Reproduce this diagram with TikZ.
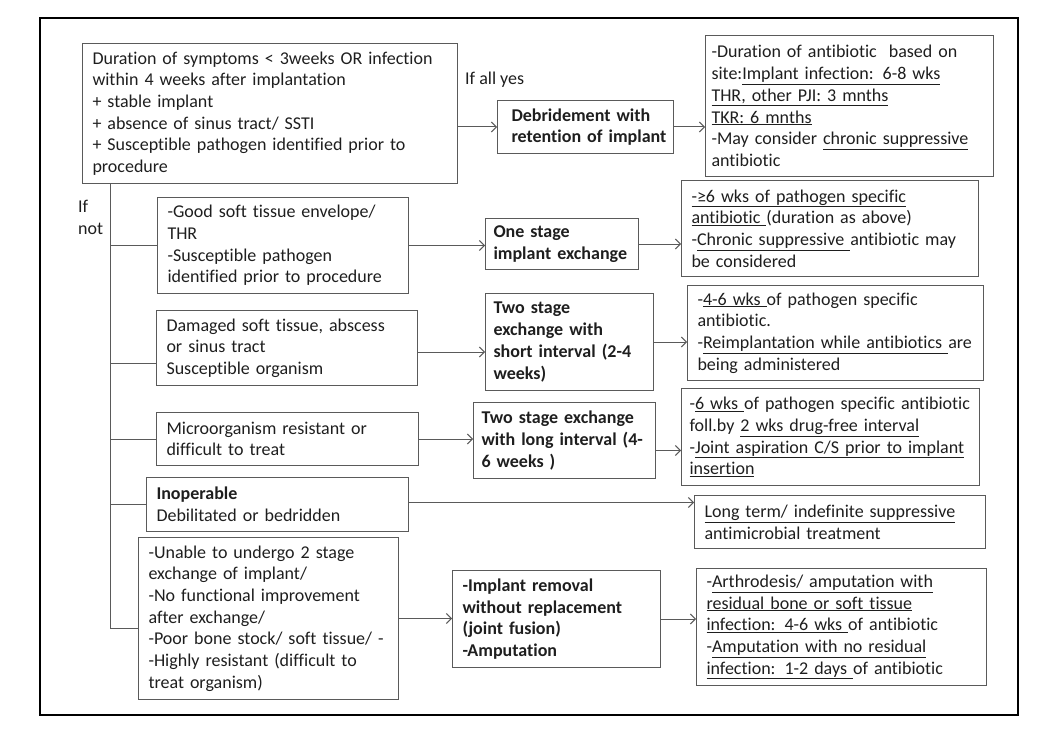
\documentclass[tikz,border=0pt]{standalone}
\usepackage{fontspec}
\setmainfont{Carlito}[Ligatures=NoCommon]
\usetikzlibrary{arrows.meta,calc}
\definecolor{boxgray}{HTML}{5A5A5A}
\definecolor{txt}{HTML}{1E1E1E}
\hyphenpenalty=10000
\exhyphenpenalty=10000
\tikzset{
  box/.style={draw=boxgray, line width=1pt, rectangle, anchor=north west, align=left,
    inner ysep=0pt, text=txt, font=\fontsize{18}{21.7}\selectfont},
  bbox/.style={box, font=\bfseries\fontsize{18}{21.7}\selectfont},
  conn/.style={draw=boxgray, line width=1pt},
  arr/.style={conn, -{Straight Barb[length=5pt,width=10pt]}},
  lbl/.style={anchor=north west, align=left, inner sep=0pt, text=txt, font=\fontsize{18}{21.7}\selectfont}
}
\begin{document}
\begin{tikzpicture}[x=1pt,y=-1pt]
\useasboundingbox (0,0) rectangle (1056,730);
\draw[line width=2.5pt] (40,18) rectangle (1018,715);

% left column
\node[box, inner xsep=10pt, text width=355pt, minimum height=140pt] (c1) at (82,43)
 {Duration of symptoms < 3weeks OR infection\\
  within 4 weeks after implantation\\
  + stable implant\\
  + absence of sinus tract/ SSTI\\
  + Susceptible pathogen identified prior to\\
  procedure};
\node[box, inner xsep=10pt, text width=231pt, minimum height=96pt] (c2) at (157,197)
 {-Good soft tissue envelope/\\ THR\\ -Susceptible pathogen\\ identified prior to procedure};
\node[box, inner xsep=10pt, text width=241pt, minimum height=75pt] (c3) at (156,310)
 {Damaged soft tissue, abscess\\ or sinus tract\\ Susceptible organism};
\node[box, inner xsep=10pt, text width=242pt, minimum height=53pt] (c4) at (156,412)
 {Microorganism resistant or\\ difficult to treat};
\node[box, inner xsep=10pt, text width=242pt, minimum height=54pt] (c5) at (146,477)
 {\textbf{Inoperable}\\ Debilitated or bedridden};
\node[box, inner xsep=10pt, text width=240pt, minimum height=162pt] (c6) at (138,537)
 {-Unable to undergo 2 stage\\ exchange of implant/\\ -No functional improvement\\ after exchange/\\ -Poor bone stock/ soft tissue/ -\\ -Highly resistant (difficult to\\ treat organism)};

% middle column
\node[bbox, inner xsep=14pt, text width=148pt, minimum height=53pt] (deb) at (497,100)
 {Debridement~with\\ retention~of~implant};
\node[bbox, inner xsep=8pt, text width=137pt, minimum height=51pt] (one) at (485,218)
 {One stage\\ implant~exchange};
\node[bbox, inner xsep=8pt, text width=152pt, minimum height=97pt] (short) at (485,293)
 {Two stage\\ exchange with\\ short~interval~(2-4\\ weeks)};
\node[bbox, inner xsep=8pt, text width=166pt, minimum height=76pt] (long) at (473,402)
 {Two~stage~exchange\\ with~long~interval~(4-\\ 6 weeks )};
\node[bbox, inner xsep=10pt, text width=188pt, minimum height=97pt] (rem) at (452,570)
 {-Implant removal\\ without~replacement\\ (joint fusion)\\ -Amputation};

% right column
\node[box, inner xsep=6pt, text width=276pt, minimum height=141pt] (r1) at (705,35)
 {-Duration of antibiotic~ based on\\
  site:\underline{Implant infection: 6-8 wks}\\
  \underline{THR, other PJI: 3 mnths}\\
  \underline{TKR: 6 mnths}\\
  -May consider \underline{chronic suppressive}\\
  antibiotic};
\node[box, inner xsep=10pt, text width=277pt, minimum height=96pt] (r2) at (681,180)
 {\underline{-≥6 wks of pathogen specific}\\
  \underline{antibiotic }(duration as above)\\
  \mbox{-\underline{Chronic suppressive }antibiotic may}\\
  be considered};
\node[box, inner xsep=10pt, text width=276pt, minimum height=95pt] (r3) at (687,285)
 {\mbox{-\underline{4-6 wks }of pathogen specific}\\
  antibiotic.\\
  \mbox{-\underline{Reimplantation while antibiotics }are}\\
  being administered};
\node[box, inner xsep=8pt, text width=282pt, minimum height=97pt] (r4) at (681,388)
 {\mbox{-\underline{6 wks }of pathogen specific antibiotic}\\
  foll.by \underline{2 wks drug-free interval}\\
  \mbox{-\underline{Joint aspiration C/S prior to implant}}\\
  \underline{insertion}};
\node[box, inner xsep=10pt, text width=271pt, minimum height=53pt] (r5) at (694,495)
 {\underline{Long term/ indefinite suppressive}\\ antimicrobial treatment};
\node[box, inner xsep=10pt, text width=270pt, minimum height=117pt] (r6) at (696,568)
 {\mbox{-\underline{Arthrodesis/ amputation with}}\\
  \underline{residual bone or soft tissue}\\
  \mbox{\underline{infection: 4-6 wks }of antibiotic}\\
  \mbox{-\underline{Amputation with no residual}}\\
  \mbox{\underline{infection: 1-2 days }of antibiotic}};

% labels
\node[lbl] (ify) at (465,72) {If all yes};
\node[lbl] (ifn) at (78,200) {If\\ not};

% trunk
\coordinate (tk) at (110,0);
\draw[conn] (tk |- c1.south) -- ($(tk |- c6.west)+(0,10)$) -- ($(c6.west)+(0,10)$);
\draw[conn] (tk |- c2.west) -- (c2.west);
\draw[conn] ($(tk |- c3.west)+(0,15)$) -- ($(c3.west)+(0,15)$);
\draw[conn] (tk |- c4.west) -- (c4.west);
\draw[conn] (tk |- c5.west) -- (c5.west);

% arrows
\draw[arr] (c1.east |- deb.west) -- (deb.west);
\draw[arr] (deb.east) -- (deb.east -| r1.west);
\draw[arr] (c2.east) -- (c2.east -| one.west);
\draw[arr] (one.east) -- (one.east -| r2.west);
\draw[arr] ($(c3.east)+(0,4)$) -- ($(c3.east -| short.west)+(0,4)$);
\draw[arr] (short.east) -- (short.east -| r3.west);
\draw[arr] (c4.east) -- (c4.east -| long.west);
\draw[arr] ($(long.east)+(0,10)$) -- ($(long.east -| r4.west)+(0,10)$);
\draw[arr] ($(c5.east)+(0,-2)$) -- ($(c5.east -| r5.west)+(0,-2)$);
\draw[arr] (c6.east) -- (c6.east -| rem.west);
\draw[arr] (rem.east) -- (rem.east -| r6.west);
\end{tikzpicture}
\end{document}
